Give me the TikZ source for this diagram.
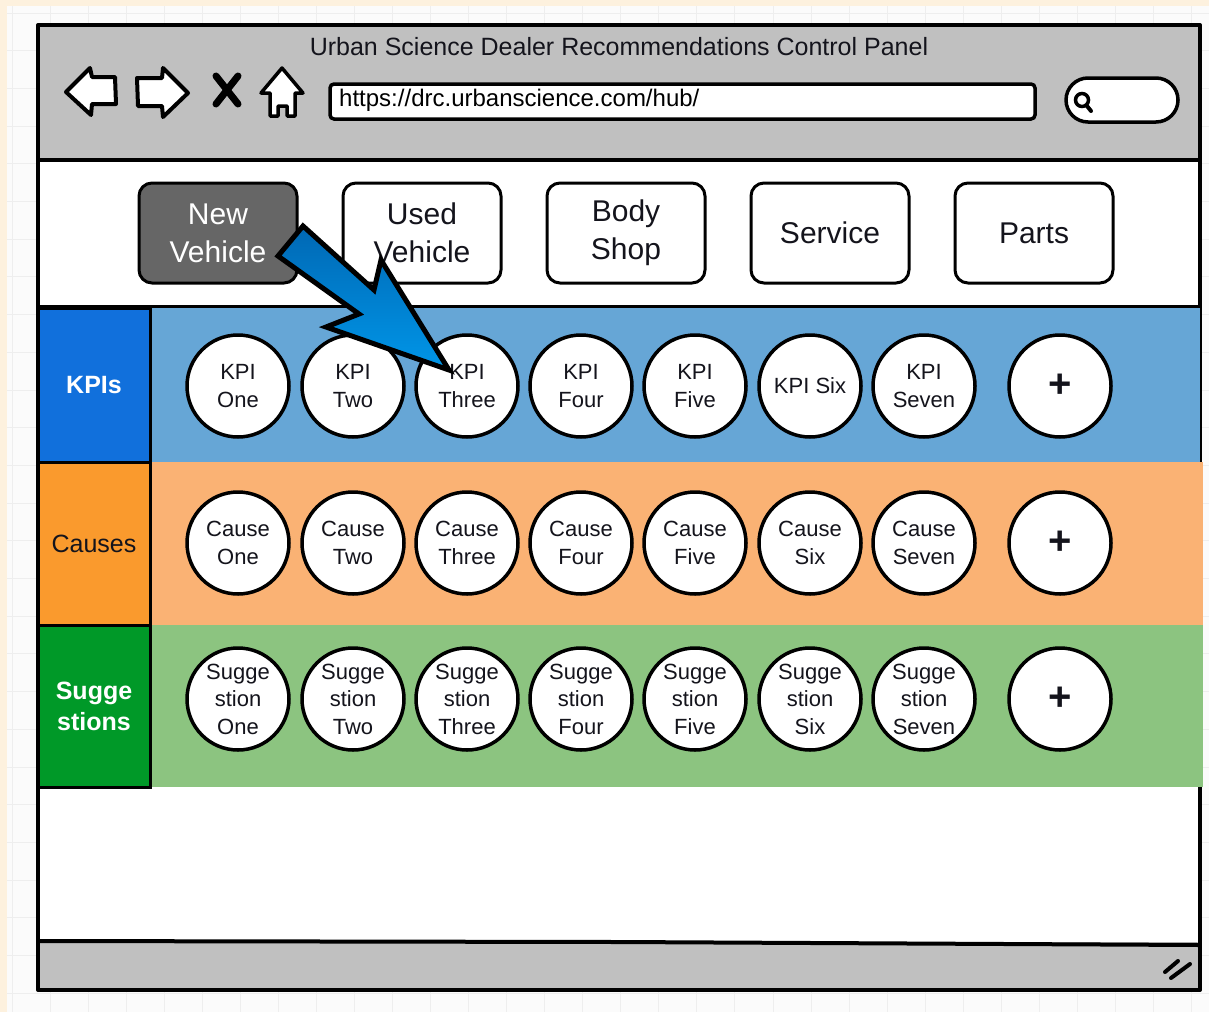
\documentclass[tikz,border=0pt]{standalone}
\usepackage{fontspec}
\setmainfont{Liberation Sans}
\definecolor{peach}{RGB}{253,241,222}
\definecolor{gridbg}{RGB}{251,251,251}
\definecolor{gridln}{RGB}{238,238,238}
\definecolor{barg}{RGB}{192,192,192}
\definecolor{tabdark}{RGB}{102,102,102}
\definecolor{kpilab}{RGB}{17,112,220}
\definecolor{kpirow}{RGB}{102,166,214}
\definecolor{causelab}{RGB}{250,154,45}
\definecolor{causerow}{RGB}{250,178,116}
\definecolor{suglab}{RGB}{0,153,40}
\definecolor{sugrow}{RGB}{140,196,128}
\definecolor{txt}{RGB}{20,20,28}
\definecolor{arrA}{RGB}{0,104,180}
\definecolor{arrB}{RGB}{0,150,232}
\begin{document}
\begin{tikzpicture}[x=1pt,y=-1pt,
  frame/.style={draw=black,line width=4pt,line join=round},
  tabbox/.style={draw=black,line width=3pt,rounded corners=13pt,fill=white,minimum width=158pt,minimum height=100pt,inner sep=0pt,align=center,font=\fontsize{30}{38}\selectfont,text=txt},
  circ/.style={circle,draw=black,line width=3.5pt,fill=white,minimum size=102pt,inner sep=0pt,align=center,font=\fontsize{22}{28.5}\selectfont,text=txt},
  sugcirc/.style={circ,font=\fontsize{22}{27.5}\selectfont},
  pluscirc/.style={circ,font=\bfseries\fontsize{40}{40}\selectfont},
  rowlab/.style={draw=black,line width=3pt,minimum width=112pt,inner sep=0pt,align=center,font=\fontsize{25}{31}\selectfont},
  icon/.style={draw=black,line width=4pt,fill=white,line join=round},
]
\useasboundingbox (0,0) rectangle (1209,1012);
% background
\fill[peach] (0,0) rectangle (1209,1012);
\fill[gridbg] (7,6) rectangle (1209,1012);
\foreach \i in {0,...,31} {\draw[gridln,line width=1pt] ({12+38.05*\i},6) -- ({12+38.05*\i},1012);}
\foreach \j in {0,...,26} {\draw[gridln,line width=1pt] (7,{13+37.7*\j}) -- (1209,{13+37.7*\j});}
% window
\fill[white] (38,25) rectangle (1200,990);
\fill[barg] (38,25) rectangle (1200,160);
\fill[barg] (38,942) rectangle (1200,990);
\draw[frame] (38,25) rectangle (1200,990);
\draw[frame] (38,160) -- (1200,160);
\draw[frame] (38,941) -- (620,942) -- (1200,945);
% resize grip
\draw[line width=4pt,line cap=round] (1165,972) -- (1178,961);
\draw[line width=4pt,line cap=round] (1171,978) -- (1190,964);
% title
\node[font=\fontsize{25}{30}\selectfont,text=txt] (title) at (619,47) {Urban Science Dealer Recommendations Control Panel};
% nav icons
\draw[icon] (66,92) -- (90,68) -- (92,77) -- (115,77) -- (116,104) -- (92,104) -- (91,115) -- cycle;
\draw[icon] (137,78) -- (162,78) -- (163,68) -- (188,93) -- (163,117) -- (162,106) -- (138,106) -- cycle;
\draw[line width=7pt,line cap=round] (216,76) -- (238,104);
\draw[line width=7pt,line cap=round] (238,76) -- (216,104);
\draw[icon,line width=3.5pt] (282,68) -- (303,93) -- (295,93) -- (295,116) -- (287,116) -- (287,106) -- (278,106) -- (278,116) -- (270,116) -- (270,93) -- (261,93) -- cycle;
% url
\node[draw=black,line width=3.5pt,fill=white,rounded corners=4pt,minimum width=705pt,minimum height=35pt] (urlbox) at (682.5,101.5) {};
\node[anchor=west,font=\fontsize{24}{28}\selectfont,text=black,inner sep=0pt] (url) at (339,100) {https://drc.urbanscience.com/hub/};
% search
\node[draw=black,line width=3.5pt,fill=white,rounded corners=22pt,minimum width=112pt,minimum height=44pt] (search) at (1122,100) {};
\draw[line width=3.5pt] (1082,100) circle (6.5);
\draw[line width=4pt,line cap=round] (1087,106) -- (1091,111);
% tabs
\draw[line width=3pt] (38,306) -- (1200,306);
\node[tabbox,fill=tabdark,text=white] (tnew) at (218,233) {New\\Vehicle};
\node[tabbox] (tused) at (422,233) {Used\\Vehicle};
\node[tabbox] (tbody) at (626,233) {Body\\Shop};
\node[tabbox] (tserv) at (830,233) {Service};
\node[tabbox] (tparts) at (1034,233) {Parts};
% rows
\fill[kpirow] (150,308) rectangle (1200,462);
\fill[causerow] (150,462) rectangle (1203,625);
\fill[sugrow] (150,625) rectangle (1203,787);
\node[rowlab,fill=kpilab,text=white,minimum height=154pt,font=\bfseries\fontsize{25}{31}\selectfont] (lkpi) at (94,385) {KPIs};
\node[rowlab,fill=causelab,text=txt,minimum height=163pt] (lcause) at (94,543.5) {Causes};
\node[rowlab,fill=suglab,text=white,minimum height=162pt,font=\bfseries\fontsize{25}{31}\selectfont] (lsug) at (94,706) {Sugge\\stions};
% KPI circles
\node[circ] (k1) at (238,386) {KPI\\One};
\node[circ] (k2) at (353,386) {KPI\\Two};
\node[circ] (k3) at (467,386) {KPI\\Three};
\node[circ] (k4) at (581,386) {KPI\\Four};
\node[circ] (k5) at (695,386) {KPI\\Five};
\node[circ] (k6) at (810,386) {KPI Six};
\node[circ] (k7) at (924,386) {KPI\\Seven};
\node[pluscirc] (kp) at (1060,386) {+};
% Cause circles
\node[circ] (c1) at (238,543) {Cause\\One};
\node[circ] (c2) at (353,543) {Cause\\Two};
\node[circ] (c3) at (467,543) {Cause\\Three};
\node[circ] (c4) at (581,543) {Cause\\Four};
\node[circ] (c5) at (695,543) {Cause\\Five};
\node[circ] (c6) at (810,543) {Cause\\Six};
\node[circ] (c7) at (924,543) {Cause\\Seven};
\node[pluscirc] (cp) at (1060,543) {+};
% Suggestion circles
\node[sugcirc] (s1) at (238,699) {Sugge\\stion\\One};
\node[sugcirc] (s2) at (353,699) {Sugge\\stion\\Two};
\node[sugcirc] (s3) at (467,699) {Sugge\\stion\\Three};
\node[sugcirc] (s4) at (581,699) {Sugge\\stion\\Four};
\node[sugcirc] (s5) at (695,699) {Sugge\\stion\\Five};
\node[sugcirc] (s6) at (810,699) {Sugge\\stion\\Six};
\node[sugcirc] (s7) at (924,699) {Sugge\\stion\\Seven};
\node[pluscirc] (sp) at (1060,699) {+};
% big arrow from New Vehicle to KPI Three
\draw[line width=5pt,line join=miter,top color=arrA,bottom color=arrB]
  (303,226) -- (374,290) -- (381,260) -- (449,370) -- (326,327) -- (359,314) -- (278,256) -- cycle;
\end{tikzpicture}
\end{document}
